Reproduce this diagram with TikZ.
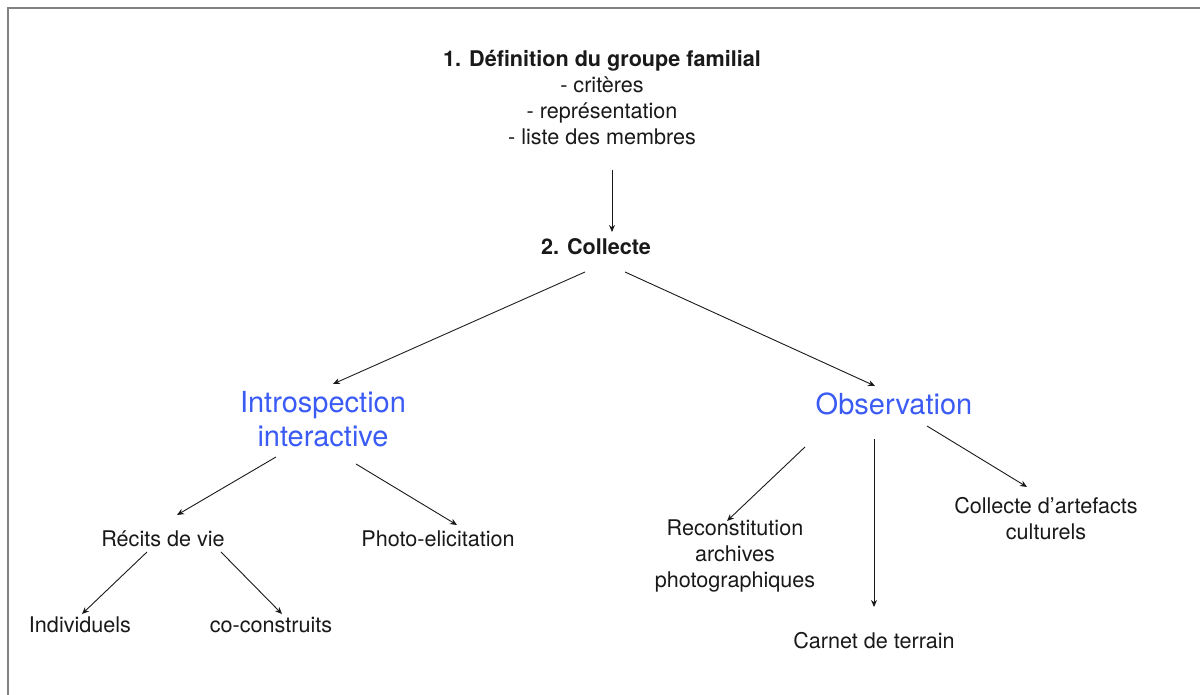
\documentclass[tikz,border=0pt]{standalone}
\usepackage{fontspec}
\setmainfont{TeX Gyre Heros}
\usetikzlibrary{arrows.meta}
\definecolor{titleblue}{RGB}{59,91,245}
\definecolor{framegray}{RGB}{130,130,133}
\definecolor{inkgray}{RGB}{25,25,25}
\begin{document}
\begin{tikzpicture}[x=1pt,y=1pt,
  txt/.style={align=center,inner sep=0pt,text=inkgray,font=\fontsize{21.6}{26}\selectfont},
  head/.style={align=center,inner sep=0pt,text=titleblue,font=\fontsize{29}{34}\selectfont},
  arr/.style={draw=inkgray,line width=0.9pt,-{Stealth[length=7pt,width=6pt]}}]

\useasboundingbox (0,0) rectangle (1200,695);
\draw[framegray,line width=2.6pt] (8,0)--(8,687)--(1200,687);

% etapes
\node [txt] (def) at (602,597) {\textbf{1. Définition du groupe familial}\\- critères\\- représentation\\- liste des membres};
\node [txt] (collecte) at (596,448) {\textbf{2. Collecte}};

\node [head] (intro) at (323,276) {Introspection\\interactive};
\node [head] (obs) at (894,291) {Observation};

\node [txt] (recits) at (163,156) {Récits de vie};
\node [txt] (photo) at (438,156) {Photo-elicitation};
\node [txt] (indiv) at (80,70) {Individuels};
\node [txt] (cocon) at (271,70) {co-construits};

\node [txt] (recon) at (735,139) {Reconstitution\\archives\\photographiques};
\node [txt] (carnet) at (874,54) {Carnet de terrain};
\node [txt] (artef) at (1046,176) {Collecte d’artefacts\\culturels};

% fleches
\draw[arr] ([shift={(10,-72)}]def.center)--([shift={(16,15)}]collecte.center);
\draw[arr] ([shift={(-11,-25)}]collecte.center)--([shift={(10,35)}]intro.center);
\draw[arr] ([shift={(29,-25)}]collecte.center)--([shift={(-19,18)}]obs.center);

\draw[arr] ([shift={(-47,-38)}]intro.center)--([shift={(14,24)}]recits.center);
\draw[arr] ([shift={(33,-45)}]intro.center)--([shift={(19,14)}]photo.center);
\draw[arr] ([shift={(-16,-13)}]recits.center)--([shift={(2,11)}]indiv.center);
\draw[arr] ([shift={(58,-13)}]recits.center)--([shift={(11,11)}]cocon.center);

\draw[arr] ([shift={(-89,-43)}]obs.center)--([shift={(-8,35)}]recon.center);
\draw[arr] ([shift={(-20,-35)}]obs.center)--([shift={(0,34)}]carnet.center);
\draw[arr] ([shift={(33,-22)}]obs.center)--([shift={(-19,32)}]artef.center);

\end{tikzpicture}
\end{document}
